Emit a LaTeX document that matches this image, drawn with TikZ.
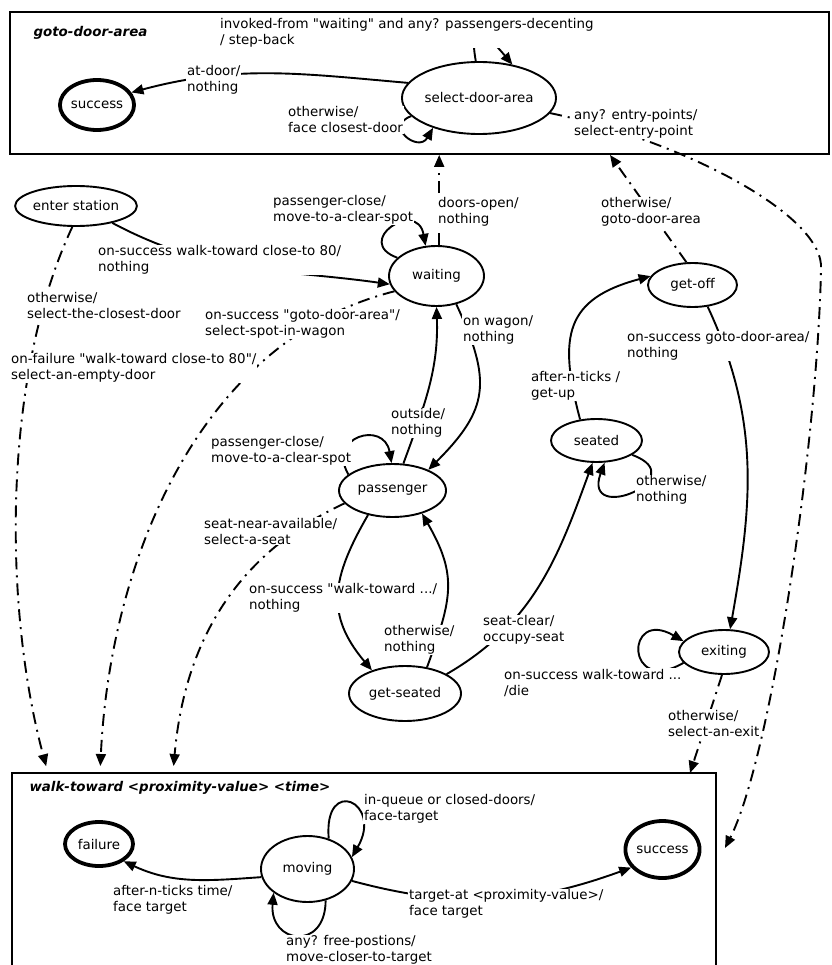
\documentclass[tikz,border=0pt]{standalone}
\usepackage{fontspec}
\setmainfont{DejaVu Sans}
\usetikzlibrary{shapes.geometric, arrows.meta}

\begin{document}
\begin{tikzpicture}[x=1pt, y=-1pt,
    font=\fontsize{13.4}{16}\selectfont,
    state/.style={ellipse, draw, line width=1.9pt, inner sep=0pt},
    finalstate/.style={state, line width=3.8pt},
    area/.style={draw, line width=1.9pt, inner sep=0pt},
    trans/.style={line width=1.9pt, -{Triangle[length=12pt, width=10pt]}},
    jump/.style={trans, dash pattern=on 12pt off 6pt on 2pt off 6pt},
    lbl/.style={fill=white, inner sep=1pt, align=left, anchor=west},
    title/.style={font=\fontsize{13.4}{16}\selectfont\bfseries\itshape, anchor=west}
]

    % Page
    \useasboundingbox (0, 0) rectangle (831, 965);
    \clip (0, 0) rectangle (831, 965);

    % Areas
    \node[area, minimum width=819pt, minimum height=142pt] (doorarea) at (419.5, 83) {};
    \node[area, minimum width=704pt, minimum height=202pt] (walkarea) at (364, 874) {};
    \node[title] (doortitle) at (30, 33) {goto-door-area};
    \node[title] (walktitle) at (26, 788) {walk-toward <proximity-value> <time>};

    % States of goto-door-area
    \node[state, minimum width=144pt, minimum height=72pt] (sda) at (479, 98) {select-door-area};
    \node[finalstate, minimum width=63pt, minimum height=50pt] (ok1) at (97, 105) {success};

    % States of the passenger
    \node[state, minimum width=116pt, minimum height=40pt] (enter) at (76, 206) {enter station};
    \node[state, minimum width=95pt, minimum height=60pt] (waiting) at (436.5, 276) {waiting};
    \node[state, minimum width=89pt, minimum height=44pt] (getoff) at (692.5, 285) {get-off};
    \node[state, minimum width=107pt, minimum height=53pt] (passenger) at (392.5, 490.5) {passenger};
    \node[state, minimum width=91pt, minimum height=43pt] (seated) at (596.5, 440.5) {seated};
    \node[state, minimum width=112pt, minimum height=55pt] (getseated) at (405, 693.5) {get-seated};
    \node[state, minimum width=90pt, minimum height=44pt] (exiting) at (724, 652) {exiting};

    % States of walk-toward
    \node[state, minimum width=93pt, minimum height=66pt] (moving) at (307.5, 869) {moving};
    \node[finalstate, minimum width=68pt, minimum height=44pt] (fail) at (99, 844) {failure};
    \node[finalstate, minimum width=65pt, minimum height=57pt] (ok2) at (662.5, 849.5) {success};

    % Entry points on the areas
    \coordinate (in-a) at (48, 773);
    \coordinate (in-b) at (100, 773);
    \coordinate (in-c) at (173, 773);
    \coordinate (in-d) at (690, 773);
    \coordinate (in-e) at (725, 848);
    \coordinate (out-b) at (610, 155);

    % Transitions in goto-door-area
    \draw[trans] (sda.168) to[out=175, in=15] (ok1.20);
    \draw[trans] (sda.95) to[out=100, in=130, looseness=3] (sda.45);
    \draw[trans] (sda.195) to[out=200, in=240, looseness=3] (sda.213);
    \draw[jump] (sda.-12) .. controls (680, 140) and (826, 215) .. (821, 270)
        .. controls (817, 450) and (770, 760) .. (in-e);

    % Transitions at the station
    \draw[trans] (enter.-25) to[out=-28, in=172] (waiting.190);
    \draw[jump, shorten >=7pt] (enter.-100) .. controls (1, 379) and (4, 610) .. (in-a);
    \draw[jump, shorten >=7pt] (waiting.200) .. controls (200, 340) and (110, 560) .. (in-b);
    \draw[trans] (waiting.155) to[out=160, in=100, looseness=4] (waiting.110);
    \draw[jump] (waiting.85) -- (waiting.85 |- doorarea.south);
    \draw[trans] (waiting.-55) to[out=-65, in=45, looseness=1.3] (passenger.30);

    % Transitions in the wagon
    \draw[trans] (passenger.68) to[out=70, in=-88] (waiting.south);
    \draw[trans] (passenger.160) to[out=120, in=100, looseness=2.5] (passenger.92);
    \draw[jump, shorten >=7pt] (passenger.195) to[out=205, in=85] (in-c);
    \draw[trans] (passenger.225) to[out=-120, in=130, looseness=1.2] (getseated.145);
    \draw[trans] (getseated.50) to[out=70, in=-60, looseness=1.2] (passenger.-38);
    \draw[trans] (getseated.25) to[out=30, in=-110] (seated.-100);
    \draw[trans] (seated.128) to[out=105, in=195, looseness=1.4] (getoff.168);
    \draw[trans] (seated.-22) to[out=-20, in=-110, looseness=6] (seated.-70);
    \draw[jump] (getoff.105) -- (out-b);
    \draw[trans] (getoff.-55) to[out=-65, in=80] (exiting.75);
    \draw[trans] (exiting.195) to[out=210, in=150, looseness=8] (exiting.165);
    \draw[jump] (exiting.-95) -- (in-d);

    % Transitions in walk-toward
    \draw[trans] (moving.190) to[out=184, in=-25] (fail.-35);
    \draw[trans] (moving.55) to[out=95, in=60, looseness=5.5] (moving.15);
    \draw[trans] (moving.-15) to[out=-15, in=200] (ok2.210);
    \draw[trans] (moving.-60) to[out=-90, in=-95, looseness=2.5] (moving.-145);

    % Labels
    \node[lbl] (l-invoked) at (219, 33) {invoked-from \textquotedbl waiting\textquotedbl{} and any? passengers-decenting\\/ step-back};
    \node[lbl] (l-atdoor) at (186, 80) {at-door/\\nothing};
    \node[lbl] (l-closest) at (287, 120) {otherwise/\\face closest-door};
    \node[lbl] (l-entry) at (573, 124) {any? entry-points/\\select-entry-point};
    \node[lbl] (l-walk80) at (97, 260) {on-success walk-toward close-to 80/\\nothing};
    \node[lbl] (l-closestdoor) at (26, 306) {otherwise/\\select-the-closest-door};
    \node[lbl] (l-failure) at (10, 368) {on-failure \textquotedbl walk-toward close-to 80\textquotedbl/\\select-an-empty-door};
    \node[lbl] (l-spot) at (204, 324) {on-success \textquotedbl goto-door-area\textquotedbl/\\select-spot-in-wagon};
    \node[lbl] (l-clear1) at (272, 210) {passenger-close/\\move-to-a-clear-spot};
    \node[lbl] (l-doors) at (437, 212) {doors-open/\\nothing};
    \node[lbl] (l-gotodoor) at (600, 212) {otherwise/\\goto-door-area};
    \node[lbl] (l-wagon) at (462, 330) {on wagon/\\nothing};
    \node[lbl] (l-getoff) at (626, 346) {on-success goto-door-area/\\nothing};
    \node[lbl] (l-ticks) at (530, 386) {after-n-ticks /\\get-up};
    \node[lbl] (l-outside) at (390, 423) {outside/\\nothing};
    \node[lbl] (l-seated) at (635, 490) {otherwise/\\nothing};
    \node[lbl] (l-clear2) at (210, 451) {passenger-close/\\move-to-a-clear-spot};
    \node[lbl] (l-near) at (203, 531) {seat-near-available/\\select-a-seat};
    \node[lbl] (l-toseat) at (248, 598) {on-success \textquotedbl walk-toward .../\\nothing};
    \node[lbl] (l-back) at (383, 640) {otherwise/\\nothing};
    \node[lbl] (l-occupy) at (482, 630) {seat-clear/\\occupy-seat};
    \node[lbl] (l-die) at (503, 683) {on-success walk-toward ...\\/die};
    \node[lbl] (l-exit) at (667, 723) {otherwise/\\select-an-exit};
    \node[lbl] (l-queue) at (363, 809) {in-queue or closed-doors/\\face-target};
    \node[lbl] (l-time) at (112, 900) {after-n-ticks time/\\face target};
    \node[lbl] (l-target) at (408, 904) {target-at <proximity-value>/\\face target};
    \node[lbl] (l-free) at (285, 950) {any? free-postions/\\move-closer-to-target};

\end{tikzpicture}
\end{document}
